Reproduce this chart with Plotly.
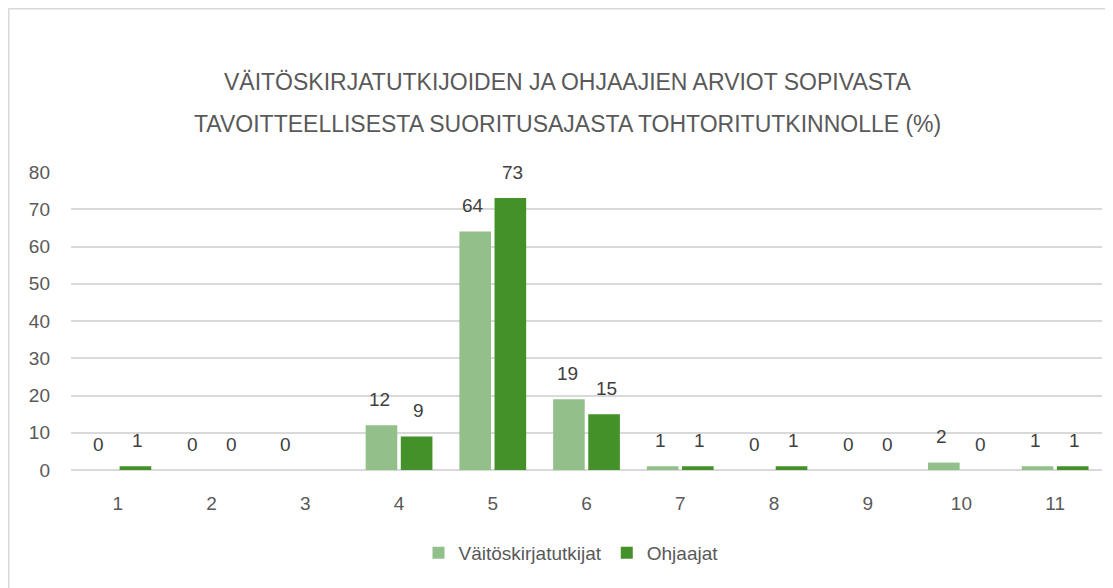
import plotly.graph_objects as go

categories = ["1", "2", "3", "4", "5", "6", "7", "8", "9", "10", "11"]
vaitoskirjatutkijat = [0, 0, 0, 12, 64, 19, 1, 0, 0, 2, 1]
ohjaajat = [1, 0, None, 9, 73, 15, 1, 1, 0, 0, 1]

title_lines = [
    "VÄITÖSKIRJATUTKIJOIDEN JA OHJAAJIEN ARVIOT SOPIVASTA",
    "TAVOITTEELLISESTA SUORITUSAJASTA TOHTORITUTKINNOLLE (%)",
]

light_green = "#93C08A"
dark_green = "#459129"
text_grey = "#595959"
label_grey = "#404040"
grid_grey = "#D9D9D9"
font_family = "Liberation Sans, Arial, sans-serif"

# figure geometry (the page body adds an 8px margin)
W, H = 1105, 580
L, R, T, B = 63, 11, 164, 118
plot_w, plot_h = W - L - R, H - T - B


def px_x(x):
    return (x - L) / plot_w


def px_y(y):
    return (H - B - y) / plot_h


fig = go.Figure()
fig.add_trace(
    go.Bar(x=categories, y=vaitoskirjatutkijat, name="Väitöskirjatutkijat",
           marker=dict(color=light_green, line=dict(width=0)))
)
fig.add_trace(
    go.Bar(x=categories, y=ohjaajat, name="Ohjaajat",
           marker=dict(color=dark_green, line=dict(width=0)))
)

# data labels above each bar
annotations = []
for series, shift in ((vaitoskirjatutkijat, -19.5), (ohjaajat, 19.5)):
    for i, val in enumerate(series):
        if val is None:
            continue
        annotations.append(dict(
            x=i, y=val, xref="x", yref="y", text=str(val), showarrow=False,
            xshift=shift, yshift=26, yanchor="middle",
            font=dict(family=font_family, size=19, color=label_grey),
        ))

# two-line title
for i, line in enumerate(title_lines):
    annotations.append(dict(
        x=px_x(559), y=px_y(74 + i * 42), xref="paper", yref="paper", text=line,
        showarrow=False, xanchor="center", yanchor="middle",
        font=dict(family=font_family, size=23, color=text_grey),
    ))

fig.update_layout(
    width=W,
    height=H,
    margin=dict(l=L, r=R, t=T, b=B),
    plot_bgcolor="white",
    paper_bgcolor="white",
    barmode="group",
    bargap=0.25,
    bargroupgap=0.1,
    font=dict(family=font_family, size=19, color=text_grey),
    xaxis=dict(
        type="category", range=[-0.5, 10.5], showgrid=False, zeroline=False,
        showline=False, ticks="", ticklabelstandoff=20,
        tickfont=dict(size=19, color=text_grey),
    ),
    yaxis=dict(
        range=[0, 80], dtick=10, showgrid=True, gridcolor=grid_grey, gridwidth=1.5,
        zeroline=True, zerolinecolor=grid_grey, zerolinewidth=1.5, showline=False,
        ticks="", ticklabelstandoff=20, tickfont=dict(size=19, color=text_grey),
    ),
    legend=dict(
        orientation="h", x=px_x(563), xanchor="center", y=px_y(545), yanchor="middle",
        font=dict(size=19, color=text_grey), itemwidth=30, traceorder="normal",
    ),
    annotations=annotations,
    shapes=[
        dict(type="line", xref="paper", yref="paper", x0=px_x(0.5), x1=px_x(W),
             y0=px_y(0.5), y1=px_y(0.5), line=dict(color=grid_grey, width=2)),
        dict(type="line", xref="paper", yref="paper", x0=px_x(0.5), x1=px_x(0.5),
             y0=px_y(0.5), y1=px_y(H), line=dict(color=grid_grey, width=2)),
    ],
)

fig.write_html("out.html")
